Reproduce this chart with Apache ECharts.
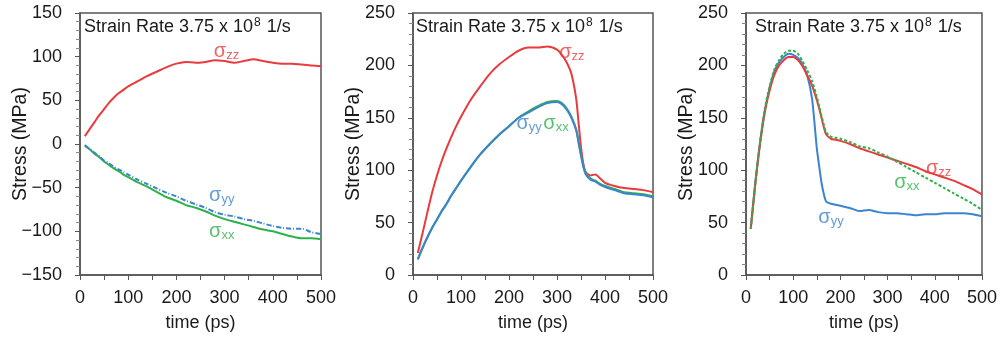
<!DOCTYPE html>
<html>
<head>
<meta charset="utf-8">
<script src="https://cdn.jsdelivr.net/npm/echarts@6/dist/echarts.min.js"></script>
<style>
html,body{margin:0;padding:0;background:#fff;}
#c{width:1000px;height:338px;}
</style>
</head>
<body>
<div id="c"></div>
<script>
// ---------- Data ----------
const titleText = 'Strain Rate 3.75 x 10';
const titleSup = '8';
const titleTail = ' 1/s';
const xName = 'time (ps)';
const yName = 'Stress (MPa)';

// Panel 1
const p1_t = [10,20,30,40,50,60,70,80,90,100,120,140,160,180,200,220,240,260,280,300,320,340,360,380,400,420,440,460,480,500];
const p1_zz = [9,17,25,33,40,47,53,58,62,66,72,78,83,88,92,94,93,94,96,95,93,95,97,95,93,92,92,91,90,89];
const p1_xx = [-1,-6,-11,-15,-20,-24,-28,-31,-35,-38,-44,-49,-55,-61,-65,-70,-73,-77,-82,-86,-89,-92,-95,-98,-100,-103,-106,-108,-108,-109];
const p1_yy = [-2,-6,-10,-14,-19,-22,-26,-29,-32,-35,-41,-46,-51,-56,-60,-65,-69,-73,-78,-81,-83,-86,-88,-91,-94,-96,-97,-97,-101,-103];

// Panel 2
const p2_t = [10,20,30,40,50,60,70,80,90,100,120,140,160,180,200,220,240,260,280,300,310,320,330,340,345,350,355,360,370,380,390,400,420,440,460,480,500];
const p2_zz = [21,40,60,79,95,109,121,132,142,151,167,180,192,201,208,214,217,217,218,215,210,203,192,168,145,122,106,98,95,96,92,88,85,83,82,81,79];
const p2_xx = [15,26,36,45,53,61,68,76,83,90,103,115,125,134,142,150,156,161,165,166,164,159,151,139,127,115,104,97,92,90,87,85,82,79,78,77,75];
const p2_yy = [15,26,36,45,53,61,68,76,83,90,103,115,125,134,142,150,155,160,164,165,163,158,150,138,126,114,103,96,91,89,86,84,81,78,77,76,74];

// Panel 3
const p3_t = [10,20,30,40,50,60,70,80,90,100,110,120,130,140,150,155,160,165,170,180,190,200,220,240,260,280,300,320,340,360,380,400,420,440,460,480,500];
const p3_zz = [44,88,126,156,176,191,200,205,208,208,205,199,190,181,167,159,150,141,134,130,129,128,125,121,118,115,112,109,106,103,99,96,93,90,86,82,77];
const p3_xx = [44,89,128,159,180,196,205,211,214,214,211,204,195,185,170,161,152,143,136,132,131,130,127,123,121,117,113,108,103,98,93,88,83,78,73,68,62];
const p3_yy = [44,89,127,157,178,194,203,208,211,210,207,201,190,168,121,104,88,77,70,68,67,66,64,61,62,60,59,59,58,57,58,58,59,59,59,58,56];

// Curve labels: [panel, subscript, t, stress, colour]
const curveLabels = [
  [0,'zz',304,106,'red'],[0,'yy',294,-59,'blue'],[0,'xx',294,-100,'green'],
  [1,'zz',331,212,'red'],[1,'yy',242,145,'blue'],[1,'xx',298,145,'green'],
  [2,'zz',408,102,'red'],[2,'xx',341,88,'green'],[2,'yy',180,55,'blue']
];

// ---------- Styles ----------
const COL = {red:'#e93b3d', blue:'#3c84cf', green:'#2db24b'};
const FONT = 'Liberation Sans, Arial, sans-serif';
const TXT = '#1a1a1a';
const AX = '#555555';

const grids = [
  {left:80, width:241, top:13, height:262},
  {left:413, width:240, top:13, height:262},
  {left:746, width:238, top:13, height:262}
];
const titleInset = [4, 3, 9];
const yRanges = [[-150,150],[0,250],[0,250]];

function pairs(t, v){ return t.map((x,i)=>[x,v[i]]); }

const xAxes = grids.map((g,i)=>({
  type:'value', gridIndex:i, min:0, max:500, interval:100,
  name:xName, nameLocation:'middle', nameGap:39, nameMoveOverlap:false,
  nameTextStyle:{fontFamily:FONT, fontSize:18, color:TXT},
  axisLine:{show:true, onZero:false, lineStyle:{color:AX, width:1.5}},
  axisTick:{show:true, length:5, lineStyle:{color:AX, width:1}},
  minorTick:{show:true, splitNumber:2, length:5, lineStyle:{color:AX, width:1}},
  axisLabel:{fontFamily:FONT, fontSize:18, color:TXT, margin:14},
  splitLine:{show:false}
}));
const yAxes = grids.map((g,i)=>({
  type:'value', gridIndex:i, min:yRanges[i][0], max:yRanges[i][1], interval:50,
  name:yName, nameLocation:'middle', nameGap:49, nameMoveOverlap:false,
  nameTextStyle:{fontFamily:FONT, fontSize:19.5, color:TXT},
  axisLine:{show:true, onZero:false, lineStyle:{color:AX, width:1.5}},
  axisTick:{show:true, length:5, lineStyle:{color:AX, width:1}},
  minorTick:{show:true, splitNumber:5, length:4, lineStyle:{color:'#888', width:1}},
  axisLabel:{fontFamily:FONT, fontSize:18, color:TXT, margin:18,
    formatter:v=>String(v).replace('-','\u2212')},
  splitLine:{show:false}
}));

function lineSeries(i, name, t, v, color, type, z){
  return {
    type:'line', xAxisIndex:i, yAxisIndex:i, name:name,
    data:pairs(t,v), showSymbol:false, smooth:0.25, z:z||2,
    lineStyle:{color:color, width:2, type:type||'solid'},
    silent:true, animation:false
  };
}

const series = [
  lineSeries(0,'zz',p1_t,p1_zz,COL.red),
  lineSeries(0,'xx',p1_t,p1_xx,COL.green),
  lineSeries(0,'yy',p1_t,p1_yy,COL.blue,[5,2,1,2]),
  lineSeries(1,'zz',p2_t,p2_zz,COL.red),
  lineSeries(1,'xx',p2_t,p2_xx,COL.green),
  lineSeries(1,'yy',p2_t,p2_yy,COL.blue,'solid',3),
  lineSeries(2,'yy',p3_t,p3_yy,COL.blue),
  lineSeries(2,'zz',p3_t,p3_zz,COL.red,'solid',3),
  lineSeries(2,'xx',p3_t,p3_xx,COL.green,[3,2],4)
];

for (let p=0;p<3;p++){
  const items = curveLabels.filter(l=>l[0]===p).map(l=>({
    value:[l[2],l[3]],
    label:{
      show:true, position:'inside',
      formatter:'{s|σ}{b|' + l[1] + '}',
      rich:{
        s:{fontFamily:FONT, fontSize:20, color:COL[l[4]]},
        b:{fontFamily:FONT, fontSize:13, color:COL[l[4]], padding:[8,0,0,0]}
      }
    }
  }));
  series.push({type:'scatter', xAxisIndex:p, yAxisIndex:p, symbolSize:1,
    itemStyle:{color:'rgba(0,0,0,0)'}, data:items, silent:true, animation:false, z:10});
}

const titles = grids.map((g,i)=>({
  text:'{a|'+titleText+'}{s|'+titleSup+'}{a|'+titleTail+'}',
  left:g.left + titleInset[i], top:17, padding:0,
  textStyle:{fontWeight:'normal', rich:{
    a:{fontFamily:FONT, fontSize:18, fontWeight:'normal', color:TXT},
    s:{fontFamily:FONT, fontSize:12, fontWeight:'normal', color:TXT, padding:[0,1,9,1]}
  }}
}));

const chart = echarts.init(document.getElementById('c'), null, {renderer:'canvas'});
chart.setOption({
  backgroundColor:'#ffffff',
  animation:false,
  title:titles,
  grid:grids.map(g=>Object.assign({show:true, borderColor:AX, borderWidth:1.5, backgroundColor:'transparent'}, g)),
  xAxis:xAxes,
  yAxis:yAxes,
  series:series
});
</script>
</body>
</html>
